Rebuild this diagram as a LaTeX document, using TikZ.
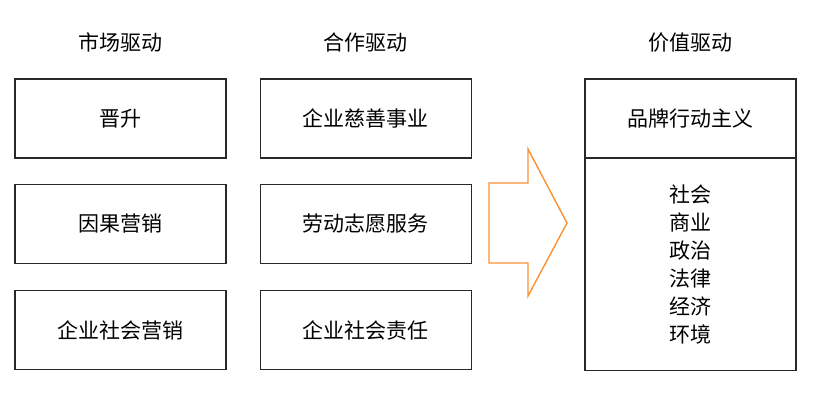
\documentclass[tikz,border=0pt]{standalone}
\usepackage{fontspec}
\setmainfont{Noto Sans CJK SC}
\usepackage{tikz}
\usetikzlibrary{positioning, calc}
\definecolor{boxline}{RGB}{40,40,40}
\definecolor{arroworange}{RGB}{250,145,50}
\tikzset{
  box/.style={rectangle, draw=boxline, fill=white, line width=1.3pt,
    minimum width=211pt, minimum height=79pt, inner sep=0pt,
    font=\fontsize{21}{28}\selectfont},
  title/.style={inner sep=0pt, font=\fontsize{21}{24}\selectfont},
  bigarrow/.style={draw=arroworange, line width=1.4pt, line join=miter}
}
\begin{document}
\begin{tikzpicture}[x=1pt, y=-1pt]
  \useasboundingbox (0,0) rectangle (830,404);
  % market column
  \node[box] (m1) at (120.5,118.5) {晋升};
  \node[box, below=25pt of m1] (m2) {因果营销};
  \node[box, below=26pt of m2] (m3) {企业社会营销};
  % cooperation column
  \node[box, right=33pt of m1] (c1) {企业慈善事业};
  \node[box, below=25pt of c1] (c2) {劳动志愿服务};
  \node[box, below=26pt of c2] (c3) {企业社会责任};
  % value column
  \node[box] (v1) at (690.5,118.5) {品牌行动主义};
  \node[box, minimum height=212pt, below=-0.65pt of v1, align=center] (v2)
    {社会\\商业\\政治\\法律\\经济\\环境};
  % titles
  \node[title] (tm) at ($(m1.north)+(0,-36)$) {市场驱动};
  \node[title] (tc) at ($(c1.north)+(0,-36)$) {合作驱动};
  \node[title] (tv) at ($(v1.north)+(0,-36)$) {价值驱动};
  % big arrow
  \draw[bigarrow] (489,183) -- (528,183) -- (528,149) -- (567,223)
    -- (528,296) -- (528,263) -- (489,263) -- cycle;
\end{tikzpicture}
\end{document}
